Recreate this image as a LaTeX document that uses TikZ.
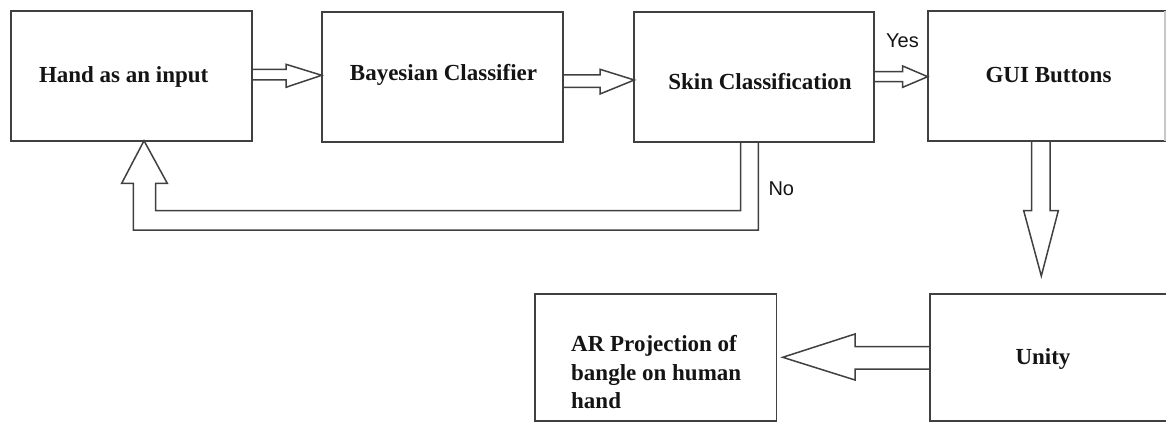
\documentclass[tikz,border=0pt]{standalone}
\usepackage{fontspec}
\setmainfont{Liberation Serif}
\newfontfamily\labelfont{Liberation Sans}
\begin{document}
\begin{tikzpicture}[x=1pt,y=-1pt,
  box/.style={draw=black!75, line width=1.8pt, inner sep=0pt, outer sep=0pt, anchor=north west, rectangle},
  boxtext/.style={font=\fontsize{23}{28.5}\selectfont\bfseries, inner sep=0pt, text=black!92},
  decision/.style={font=\labelfont\fontsize{20}{24}\selectfont, inner sep=0pt, anchor=base west, text=black!92},
  blockarrow/.style={draw=black!75, line width=1.5pt, line join=miter}]
\useasboundingbox (0,0) rectangle (1166,422);
\begin{scope}
\clip (0,0) rectangle (1166,422);
% boxes
\node[box, minimum width=241pt, minimum height=130pt] (hand) at (10.7,10.7) {};
\node[box, minimum width=241.6pt, minimum height=130pt] (bayes) at (321.7,11.7) {};
\node[box, minimum width=240pt, minimum height=129.7pt] (skin) at (634.3,12) {};
\node[box, minimum width=237.3pt, minimum height=130pt] (gui) at (927.7,10.7) {};
\node[box, minimum width=241.5pt, minimum height=126.7pt] (ar) at (535,294) {};
\node[box, minimum width=260pt, minimum height=126.7pt] (unity) at (930,294) {};
\draw[black!22, line width=1.9pt] (gui.north east) -- (gui.south east);
% labels
\node[boxtext, anchor=base] (handlabel) at (123.7,82.7) {Hand as an input};
\node[boxtext, anchor=base] (bayeslabel) at (443.5,81) {Bayesian Classifier};
\node[boxtext, anchor=base] (skinlabel) at (760,90) {Skin Classification};
\node[boxtext, anchor=base] (guilabel) at (1048.5,82.3) {GUI Buttons};
\node[boxtext, anchor=base] (unitylabel) at (1043,364.3) {Unity};
\node[boxtext, anchor=base west] (arlabel) at (571,351.7)
  {\vtop{\baselineskip=28.5pt\hbox{AR Projection of}\hbox{bangle on human}\hbox{hand}}};
\node[decision] (yes) at (886,47.3) {Yes};
\node[decision] (no) at (768.3,195) {No};
% block arrows
\draw[blockarrow] (hand.east |- 0,69.3) -- (286,69.3) -- (286,64.3) -- (bayes.west |- 0,75.3)
  -- (286,87.3) -- (286,80) -- (hand.east |- 0,80);
\draw[blockarrow] (bayes.east |- 0,75) -- (600,75) -- (600,69.3) -- (skin.west |- 0,80)
  -- (600,94) -- (600,87.3) -- (bayes.east |- 0,87.3);
\draw[blockarrow] (skin.east |- 0,71.7) -- (902.7,71.7) -- (902.7,66) -- (gui.west |- 0,76.7)
  -- (902.7,87.3) -- (902.7,81.7) -- (skin.east |- 0,81.7);
\coordinate (downtip) at (1041.3,276);
\draw[blockarrow] (gui.south -| 1031.7,0) -- (1031.7,210.7) -- (1023.7,210.7) -- (downtip)
  -- (1058.3,210.7) -- (1050,210.7) -- (gui.south -| 1050,0);
\coordinate (lefttip) at (782.7,357.3);
\draw[blockarrow] (unity.west |- 0,346.7) -- (855,346.7) -- (855,334) -- (lefttip)
  -- (855,380) -- (855,369) -- (unity.west |- 0,369);
\draw[blockarrow] (skin.south -| 758.3,0) -- (758.3,230) -- (133.3,230) -- (133.3,183.3)
  -- (121.7,183.3) -- (hand.south -| 144,0) -- (167.3,183.3) -- (155.7,183.3)
  -- (155.7,210.7) -- (740.7,210.7) -- (skin.south -| 740.7,0);
\end{scope}
\end{tikzpicture}
\end{document}
